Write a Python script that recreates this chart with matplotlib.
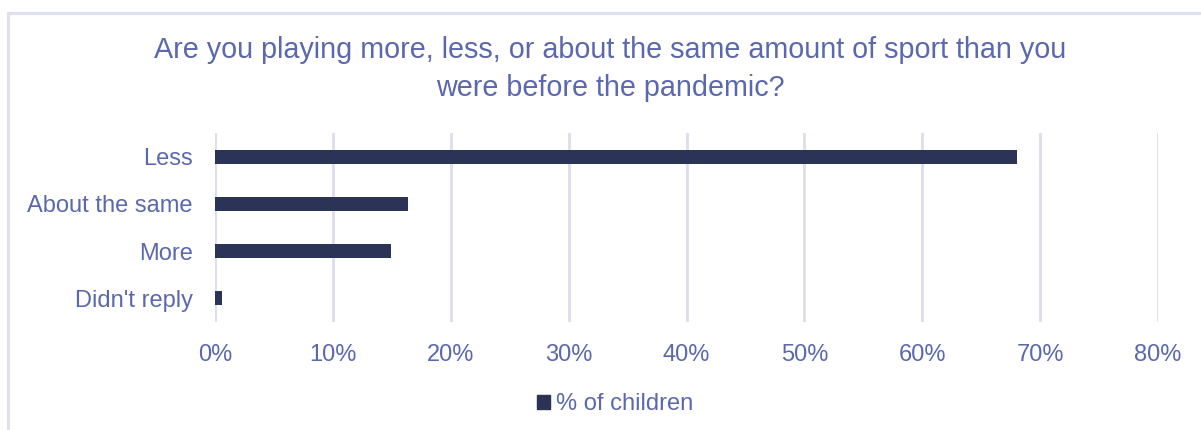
import matplotlib
matplotlib.use("Agg")
import matplotlib.pyplot as plt
from matplotlib.patches import Rectangle
from matplotlib.ticker import FuncFormatter, MultipleLocator

plt.rcParams['font.family'] = ['Liberation Sans', 'DejaVu Sans']

categories = ["Less", "About the same", "More", "Didn't reply"]
values = [68.0, 16.4, 14.9, 0.6]
series_name = "% of children"
title = "Are you playing more, less, or about the same amount of sport than you\nwere before the pandemic?"

text_color = "#5b68ae"
bar_color = "#2b3356"
grid_color = "#dcdeec"
frame_color = "#dfe1ee"

fig = plt.figure(figsize=(12.01, 4.30), dpi=100)
W, H = 1201, 430

# outer chart frame (runs off the right and bottom edges)
fig.patches.append(Rectangle((8 / W, -0.1), 1.2, 1 - 13 / H + 0.1, transform=fig.transFigure,
                             fill=False, edgecolor=frame_color, linewidth=2.2))

ax = fig.add_axes([215 / W, 1 - 322 / H, (1158 - 215) / W, (322 - 133) / H])
ypos = list(range(len(categories)))
ax.barh(ypos, values, height=0.3, color=bar_color, zorder=3)
ax.set_ylim(len(categories) - 0.5, -0.5)
ax.set_xlim(0, 80)
ax.set_yticks(ypos)
ax.set_yticklabels(categories)
ax.xaxis.set_major_locator(MultipleLocator(10))
ax.xaxis.set_major_formatter(FuncFormatter(lambda v, p: f"{v:.0f}%"))
ax.grid(axis='x', color=grid_color, linewidth=2.0, zorder=0)
for s in ax.spines.values():
    s.set_visible(False)
ax.tick_params(length=0, labelsize=17, colors=text_color)
ax.tick_params(axis='x', pad=16)
ax.tick_params(axis='y', pad=16)

fig.text(610 / W, 1 - 69 / H, title, ha='center', va='center', fontsize=20.7,
         color=text_color, linespacing=1.43, multialignment='center')

leg = fig.legend([Rectangle((0, 0), 1, 1, color=bar_color)], [series_name],
                 loc='center', bbox_to_anchor=(615 / W, 1 - 404 / H), frameon=False,
                 fontsize=17, handlelength=0.55, handleheight=0.55, handletextpad=0.25,
                 labelcolor=text_color)

fig.savefig("out.png", dpi=100, facecolor="white")
